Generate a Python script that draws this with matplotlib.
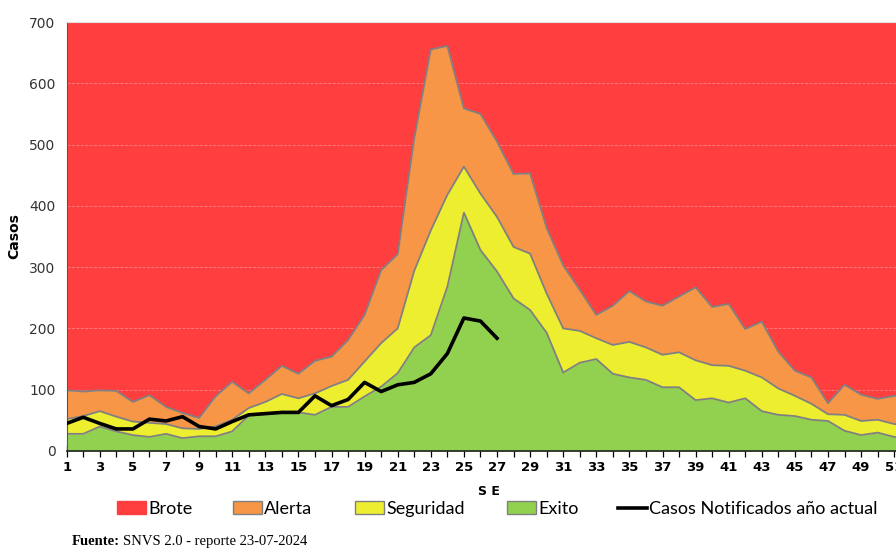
import matplotlib.pyplot as plt
import matplotlib.patches as mpatches
from matplotlib.lines import Line2D

plt.rcParams['font.family'] = ['Lato', 'DejaVu Sans']

# semanas epidemiologicas
semanas = list(range(1, 53))

# limites superiores de cada zona (corredor endemico)
exito = [28, 28, 40, 32, 26, 23, 28, 21, 24, 24, 32, 58, 60, 64, 63, 59, 72, 72, 89, 105,
         127, 169, 189, 268, 389, 328, 293, 249, 230, 193, 128, 144, 150, 126, 120, 116, 104, 104, 83, 86,
         79, 86, 65, 59, 57, 51, 49, 33, 26, 30, 23, 22]
seguridad = [52, 57, 65, 56, 48, 46, 44, 37, 36, 40, 51, 70, 80, 93, 86, 94, 106, 116, 146, 176,
             200, 294, 360, 418, 464, 420, 382, 333, 322, 257, 200, 196, 184, 173, 178, 169, 157, 161, 148, 140,
             139, 131, 120, 102, 90, 77, 60, 59, 49, 51, 44, 42]
alerta = [99, 97, 99, 98, 80, 91, 72, 62, 54, 89, 113, 94, 116, 139, 126, 147, 154, 181, 222, 295,
          321, 510, 655, 661, 559, 550, 505, 452, 453, 364, 303, 263, 222, 237, 261, 244, 237, 252, 267, 235,
          240, 199, 211, 162, 131, 120, 78, 108, 92, 85, 90, 88]
brote_tope = 700

# casos notificados año actual
semanas_casos = list(range(1, 28))
casos = [45, 55, 45, 36, 36, 52, 49, 56, 40, 36, 48, 59, 61, 63, 63, 90, 74, 84, 112, 97,
         108, 112, 126, 159, 217, 212, 184]

rojo = '#FF3F3F'
naranja = '#F79646'
amarillo = '#EEEE30'
verde = '#92D050'
borde = '#808080'

fig = plt.figure(figsize=(8.96, 5.52), dpi=100)
x0 = 66.7
paso = 16.55
ax = fig.add_axes([x0 / 896, 1 - 451 / 552, (51 * paso) / 896, (451 - 22) / 552])

ax.fill_between(semanas, alerta, brote_tope, color=rojo, lw=0, zorder=0.3)
ax.fill_between(semanas, seguridad, alerta, color=naranja, lw=0, zorder=1)
ax.fill_between(semanas, exito, seguridad, color=amarillo, lw=0, zorder=1)
ax.fill_between(semanas, 0, exito, color=verde, lw=0, zorder=1)
for serie in (alerta, seguridad, exito):
    ax.plot(semanas, serie, color=borde, lw=1.3, zorder=2)
ax.plot(semanas_casos, casos, color='black', lw=2.6, zorder=3)

ax.set_xlim(1, 52)
ax.set_ylim(0, 700)
ax.set_yticks(range(0, 701, 100))
ax.set_xticks(range(1, 53, 2))
ax.set_xticks(range(1, 53), minor=True)
ax.tick_params(axis='y', length=0, labelsize=10, colors='#333333', pad=8)
ax.tick_params(axis='x', which='both', direction='inout', length=8, width=0.9, labelsize=9.5, pad=3)
for t in ax.get_xticklabels():
    t.set_fontweight('bold')
    t.set_family('DejaVu Sans')
for t in ax.get_yticklabels():
    t.set_family('DejaVu Sans')
ax.set_axisbelow(True)
ax.yaxis.grid(True, color='#ff8080', ls='--', lw=0.6)

ax.spines['top'].set_color('#e0e0e0')
ax.spines['right'].set_visible(False)
ax.spines['left'].set_color('#555555')
ax.spines['bottom'].set_color('#222222')
ax.spines['bottom'].set_linewidth(1.2)

ax.set_ylabel('Casos', fontsize=10, fontweight='bold', family='DejaVu Sans', labelpad=6)
ax.set_xlabel('S E', fontsize=9, fontweight='bold', family='DejaVu Sans', labelpad=8)

handles = [mpatches.Patch(facecolor=rojo, edgecolor=rojo),
           mpatches.Patch(facecolor=naranja, edgecolor=borde),
           mpatches.Patch(facecolor=amarillo, edgecolor=borde),
           mpatches.Patch(facecolor=verde, edgecolor=borde),
           Line2D([], [], color='black', lw=2.6)]
labels = ['Brote', 'Alerta', 'Seguridad', 'Exito', 'Casos Notificados año actual']
inicio = [117, 233, 355, 507, 618]
for h, lab, xi in zip(handles, labels, inicio):
    fig.legend([h], [lab], loc='center left', bbox_to_anchor=(xi / 896, 1 - 509 / 552),
               frameon=False, fontsize=13, handlelength=1.6, handletextpad=0.12,
               borderpad=0, borderaxespad=0)

fig.text(72 / 896, 1 - 545 / 552, 'Fuente:', fontsize=10.5, fontweight='bold',
         family='Liberation Serif', va='baseline')
fig.text(123 / 896, 1 - 545 / 552, 'SNVS 2.0 - reporte 23-07-2024', fontsize=10.5,
         family='Liberation Serif', va='baseline')

fig.savefig('out.png', dpi=100)
